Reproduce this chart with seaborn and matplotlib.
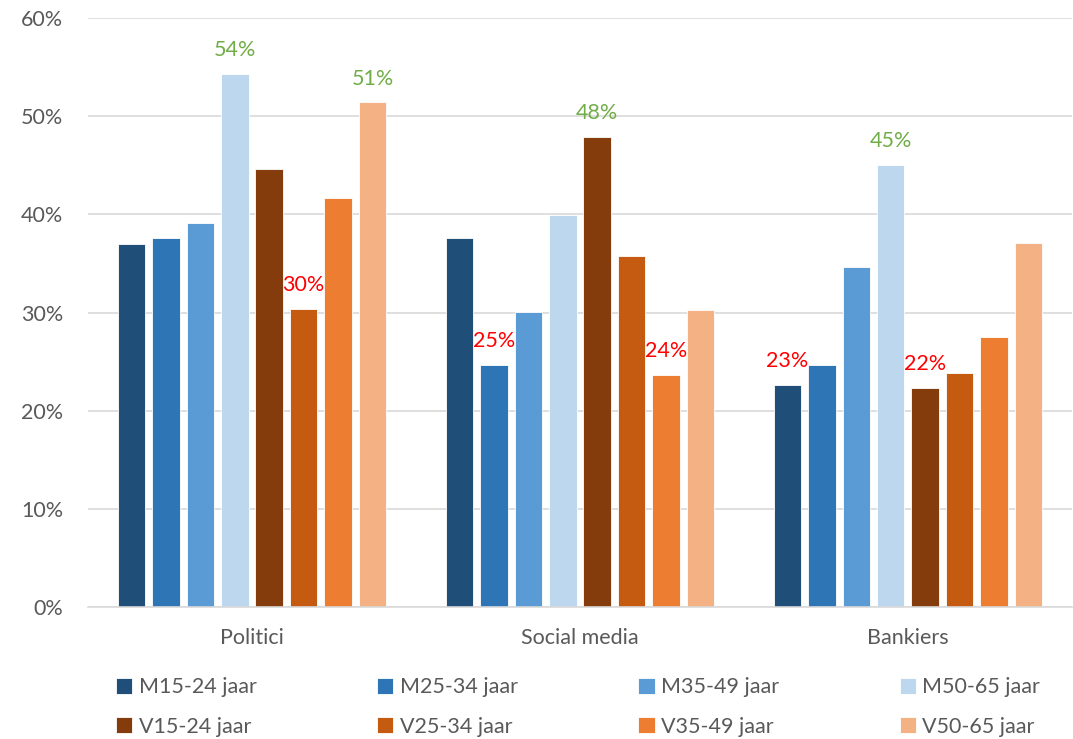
import numpy as np
import pandas as pd
import seaborn as sns
import matplotlib.pyplot as plt
from matplotlib.ticker import PercentFormatter

# Data
categories = ["Politici", "Social media", "Bankiers"]
groups = ["M15-24 jaar", "M25-34 jaar", "M35-49 jaar", "M50-65 jaar",
          "V15-24 jaar", "V25-34 jaar", "V35-49 jaar", "V50-65 jaar"]
m15_24 = [0.370, 0.376, 0.226]
m25_34 = [0.376, 0.247, 0.247]
m35_49 = [0.391, 0.301, 0.346]
m50_65 = [0.543, 0.399, 0.450]
v15_24 = [0.446, 0.479, 0.223]
v25_34 = [0.304, 0.358, 0.238]
v35_49 = [0.417, 0.236, 0.275]
v50_65 = [0.514, 0.303, 0.371]
# which bars carry a label: "g" = green, "r" = red, "" = none
m15_24_lbl = ["", "", "r"]
m25_34_lbl = ["", "r", ""]
m35_49_lbl = ["", "", ""]
m50_65_lbl = ["g", "", "g"]
v15_24_lbl = ["", "g", "r"]
v25_34_lbl = ["r", "", ""]
v35_49_lbl = ["", "r", ""]
v50_65_lbl = ["g", "", ""]

colors = ["#1F4E79", "#2E75B6", "#5B9BD5", "#BDD7EE",
          "#843C0C", "#C55A11", "#ED7D31", "#F4B183"]
label_colors = {"g": "#70AD47", "r": "#FF0000"}

series = [m15_24, m25_34, m35_49, m50_65, v15_24, v25_34, v35_49, v50_65]
label_flags = [m15_24_lbl, m25_34_lbl, m35_49_lbl, m50_65_lbl,
               v15_24_lbl, v25_34_lbl, v35_49_lbl, v50_65_lbl]

df = pd.DataFrame([
    {"categorie": c, "groep": g, "waarde": vals[i]}
    for g, vals in zip(groups, series)
    for i, c in enumerate(categories)
])

sns.set_style("white")
plt.rcParams['font.family'] = ['Lato', 'DejaVu Sans']
text_color = "#595959"
fs = 15.5

fig = plt.figure(figsize=(10.73, 7.39), dpi=100)
ax = fig.add_axes([0.082, 0.1786, 0.917, 0.797])

sns.barplot(data=df, x="categorie", y="waarde", hue="groep",
            order=categories, hue_order=groups, palette=colors,
            saturation=1, width=0.84, gap=0.2, ax=ax, legend=True,
            edgecolor="white", linewidth=0.6)

ax.set_ylim(0, 0.6)
ax.set_xlim(-0.5, 2.5)
ax.set_yticks(np.arange(0, 0.61, 0.1))
ax.yaxis.set_major_formatter(PercentFormatter(1.0, decimals=0))
ax.grid(axis="y", color="#D9D9D9", linewidth=1.2)
ax.set_axisbelow(True)
for side in ["top", "right", "left"]:
    ax.spines[side].set_visible(False)
ax.spines["bottom"].set_color("#D9D9D9")
ax.spines["bottom"].set_linewidth(1.2)
ax.tick_params(axis="both", length=0, labelsize=fs, colors=text_color)
ax.tick_params(axis="x", pad=15)
ax.tick_params(axis="y", pad=18)
ax.set_xlabel("")
ax.set_ylabel("")

# data labels above highlighted bars
for container, vals, flags in zip(ax.containers, series, label_flags):
    for bar, v, f in zip(container, vals, flags):
        if f:
            ax.annotate(f"{v * 100:.0f}%",
                        (bar.get_x() + bar.get_width() / 2, bar.get_height()),
                        xytext=(0, 10), textcoords="offset points",
                        ha="center", va="bottom", fontsize=fs,
                        color=label_colors[f])

# legend: two rows, males on top, females below
handles, labels = ax.get_legend_handles_labels()
order = [0, 4, 1, 5, 2, 6, 3, 7]
ax.legend([handles[i] for i in order], [labels[i] for i in order],
          ncol=4, loc="upper left", bbox_to_anchor=(0.02, -0.105),
          frameon=False, fontsize=fs, labelcolor=text_color,
          handlelength=0.75, handleheight=0.75, handletextpad=0.3,
          columnspacing=5.6, labelspacing=0.9, borderaxespad=0)

fig.savefig("out.png", dpi=100)
